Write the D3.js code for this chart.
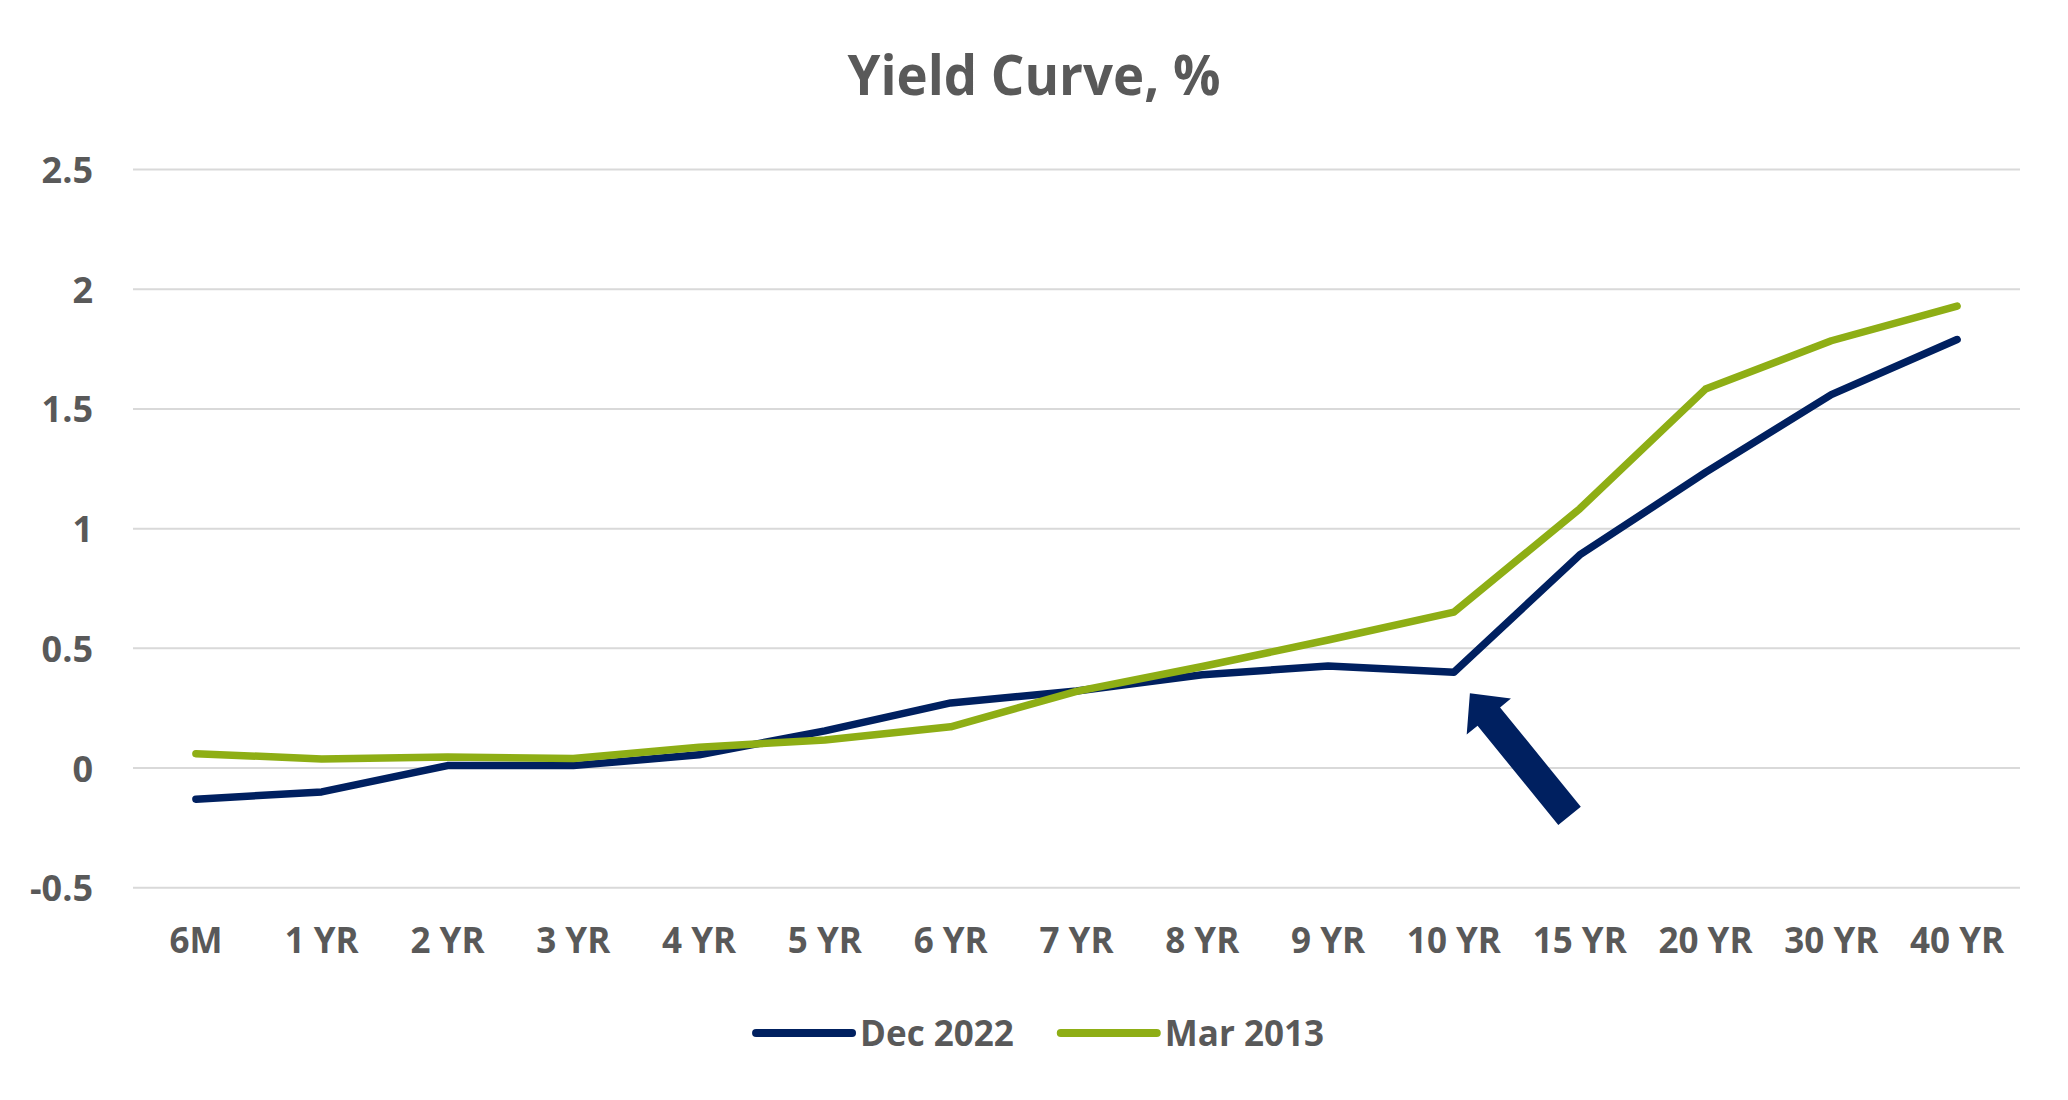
<!DOCTYPE html>
<html>
<head>
<meta charset="utf-8">
<script src="https://cdn.jsdelivr.net/npm/d3@7"></script>
<style>
  html, body { margin: 0; padding: 0; background: #fff; }
  svg { display: block; }
  text { font-family: "Open Sans", "Noto Sans", sans-serif; font-weight: 700; fill: #595959; }
</style>
</head>
<body>
<svg id="chart" width="2068" height="1100"></svg>
<script>
const title = "Yield Curve, %";
const categories = ["6M", "1 YR", "2 YR", "3 YR", "4 YR", "5 YR", "6 YR", "7 YR", "8 YR", "9 YR", "10 YR", "15 YR", "20 YR", "30 YR", "40 YR"];
const seriesNames = ["Dec 2022", "Mar 2013"];
const dec2022 = [-0.13, -0.10, 0.01, 0.01, 0.055, 0.155, 0.272, 0.322, 0.39, 0.426, 0.40, 0.89, 1.235, 1.56, 1.79];
const mar2013 = [0.06, 0.038, 0.046, 0.04, 0.087, 0.117, 0.172, 0.32, 0.424, 0.535, 0.651, 1.083, 1.583, 1.785, 1.93];
const yTicks = [-0.5, 0, 0.5, 1, 1.5, 2, 2.5];
const yTickLabels = ["-0.5", "0", "0.5", "1", "1.5", "2", "2.5"];
const arrowCategory = "10 YR";

const colors = { "Dec 2022": "#002060", "Mar 2013": "#8EAE15" };
const series = [
  { name: seriesNames[0], values: dec2022 },
  { name: seriesNames[1], values: mar2013 }
];

const svg = d3.select("#chart");
const plot = { left: 133, right: 2020, top: 169.6, bottom: 887.7 };

const x = d3.scaleBand().domain(categories).range([plot.left, plot.right]).paddingInner(0).paddingOuter(0);
const xc = d => x(d) + x.bandwidth() / 2;
const y = d3.scaleLinear().domain([-0.5, 2.5]).range([plot.bottom, plot.top]);

// Title
svg.append("text")
  .attr("x", 1034).attr("y", 95)
  .attr("text-anchor", "middle")
  .attr("textLength", 373)
  .attr("lengthAdjust", "spacingAndGlyphs")
  .style("font-size", "55px")
  .text(title);

// Gridlines
svg.append("g").selectAll("line").data(yTicks).join("line")
  .attr("x1", plot.left).attr("x2", plot.right)
  .attr("y1", d => y(d)).attr("y2", d => y(d))
  .attr("stroke", "#D9D9D9").attr("stroke-width", 2);

// Y axis labels
const yAxis = d3.axisLeft(y).tickValues(yTicks).tickFormat((d, i) => yTickLabels[i]).tickSize(0).tickPadding(0);
const yg = svg.append("g").attr("transform", "translate(93,0)").call(yAxis);
yg.select(".domain").remove();
yg.selectAll("text")
  .attr("x", 0).attr("dy", null).attr("y", 13)
  .style("font-size", "36px").attr("fill", "#595959")
  .style("font-family", "'Open Sans', sans-serif").style("font-weight", 700);

// X axis labels
const xAxis = d3.axisBottom(x).tickSize(0).tickPadding(0);
const xg = svg.append("g").attr("transform", "translate(0,953)").call(xAxis);
xg.select(".domain").remove();
xg.selectAll("text")
  .attr("y", 0).attr("dy", null)
  .style("font-size", "35px").attr("fill", "#595959")
  .style("font-family", "'Open Sans', sans-serif").style("font-weight", 700);

// Lines
const line = d3.line().x((d, i) => xc(categories[i])).y(d => y(d));
svg.append("g").selectAll("path").data(series).join("path")
  .attr("d", d => line(d.values))
  .attr("fill", "none")
  .attr("stroke", d => colors[d.name])
  .attr("stroke-width", 7.5)
  .attr("stroke-linejoin", "round")
  .attr("stroke-linecap", "round");

// Arrow annotation pointing at Dec 2022 10 YR point
const ai = categories.indexOf(arrowCategory);
const ax = xc(arrowCategory) + 16, ay = y(dec2022[ai]) + 21;
const arrowShape = [[0,0],[30,-28.5],[30,-14.5],[158,-14.5],[158,14.5],[30,14.5],[30,28.5]];
svg.append("path")
  .attr("d", "M" + arrowShape.map(p => p.join(",")).join("L") + "Z")
  .attr("fill", "#002060")
  .attr("transform", `translate(${ax},${ay}) rotate(50.9)`);

// Legend
const legend = svg.append("g");
let cx = 0;
series.forEach((s, i) => {
  const g = legend.append("g");
  g.append("line").attr("x1", 0).attr("x2", 96).attr("y1", 0).attr("y2", 0)
    .attr("stroke", colors[s.name]).attr("stroke-width", 8).attr("stroke-linecap", "round");
  const t = g.append("text").attr("x", 104).attr("y", 12.5).style("font-size", "35px").text(s.name);
  const w = 104 + t.node().getComputedTextLength();
  g.attr("transform", `translate(${cx},0)`);
  cx += w + 47;
});
const totalW = cx - 47;
legend.attr("transform", `translate(${1040 - totalW / 2},1033)`);
</script>
</body>
</html>
